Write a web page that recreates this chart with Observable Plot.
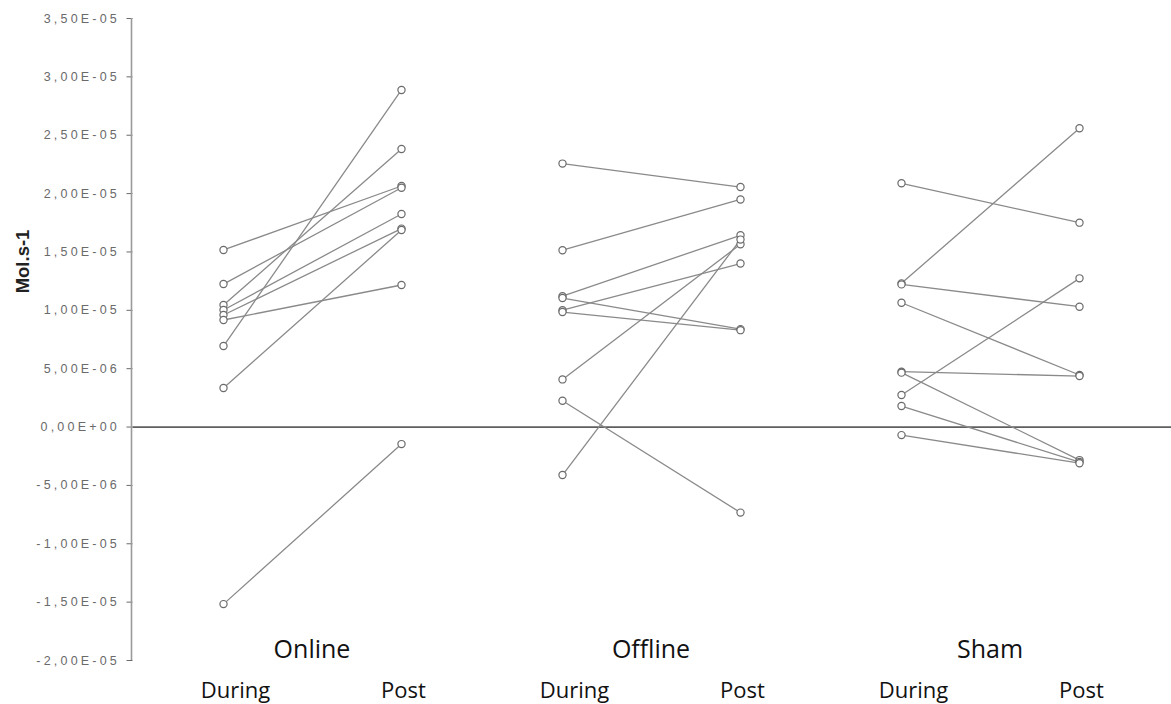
<!DOCTYPE html>
<html>
<head>
<meta charset="utf-8">
<script src="https://cdn.jsdelivr.net/npm/d3@7"></script>
<script src="https://cdn.jsdelivr.net/npm/@observablehq/plot@0.6"></script>
<style>
  html, body { margin: 0; padding: 0; background: #fff; }
  #chart svg [aria-label="y-axis tick label"] text { letter-spacing: 3.2px; }
</style>
</head>
<body>
<div id="chart"></div>
<script>
// ---- data ----
const groups = ["Online", "Offline", "Sham"];
const phases = ["During", "Post"];
const yLabel = "Mol.s-1";
const yTicks = [-2e-5, -1.5e-5, -1e-5, -5e-6, 0, 5e-6, 1e-5, 1.5e-5, 2e-5, 2.5e-5, 3e-5, 3.5e-5];

const onlineDuring  = [1.517e-5, 1.225e-5, 1.045e-5, 1.003e-5, 0.960e-5, 0.917e-5, 0.694e-5, 0.334e-5, -1.517e-5];
const onlinePost    = [2.065e-5, 2.050e-5, 2.382e-5, 1.825e-5, 1.700e-5, 1.217e-5, 2.888e-5, 1.688e-5, -0.146e-5];

const offlineDuring = [2.257e-5, 1.515e-5, 1.121e-5, 1.105e-5, 1.001e-5, 0.985e-5, 0.408e-5, 0.225e-5, -0.411e-5];
const offlinePost   = [2.056e-5, 1.950e-5, 1.643e-5, 0.839e-5, 1.401e-5, 0.830e-5, 1.566e-5, -0.733e-5, 1.606e-5];

const shamDuring    = [2.088e-5, 1.231e-5, 1.222e-5, 1.065e-5, 0.474e-5, 0.466e-5, 0.274e-5, 0.180e-5, -0.069e-5];
const shamPost      = [1.751e-5, 2.560e-5, 1.031e-5, 0.446e-5, 0.437e-5, -0.283e-5, 1.274e-5, -0.300e-5, -0.310e-5];

// ---- build long table ----
const series = {
  Online: [onlineDuring, onlinePost],
  Offline: [offlineDuring, offlinePost],
  Sham: [shamDuring, shamPost]
};
const rows = [];
for (const g of groups) {
  const [during, post] = series[g];
  during.forEach((v, i) => {
    rows.push({group: g, phase: phases[0], subject: g + i, value: v});
    rows.push({group: g, phase: phases[1], subject: g + i, value: post[i]});
  });
}

const fmt = d => {
  const [m, e] = d.toExponential(2).split("e");
  const n = +e;
  return m.replace(".", ",") + "E" + (n < 0 ? "-" : "+") + String(Math.abs(n)).padStart(2, "0");
};

const marginLeft = 141;
const marginRight = 12;
const axisShift = -9.5;
const zeroStyle = {stroke: "#5f5f5f", strokeWidth: 1.7};

const chart = Plot.plot({
  width: 1171,
  height: 704,
  marginLeft,
  marginRight,
  marginTop: 18,
  marginBottom: 44,
  style: {fontFamily: "'Open Sans', sans-serif", background: "white", overflow: "visible"},
  fx: {domain: groups, padding: 0, label: null},
  x: {domain: phases, padding: 0.4478, label: null},
  y: {domain: [-2e-5, 3.5e-5], label: null},
  marks: [
    Plot.ruleY([0], {...zeroStyle, fx: [groups[0]], insetLeft: axisShift}),
    Plot.ruleY([0], {...zeroStyle, fx: [groups[1]]}),
    Plot.ruleY([0], {...zeroStyle, fx: [groups[2]], insetRight: -marginRight}),
    Plot.line(rows, {fx: "group", x: "phase", y: "value", z: "subject", stroke: "#8a8a8a", strokeWidth: 1.3}),
    Plot.dot(rows, {fx: "group", x: "phase", y: "value", r: 3.6, stroke: "#6a6a6a", strokeWidth: 1.2, fill: "white"}),
    Plot.axisY({
      ticks: yTicks, tickFormat: fmt, tickSize: 6, tickPadding: 7, dx: axisShift,
      fontSize: 12.5, color: "#6a6a6a", fontFamily: "'Liberation Sans', Arial, sans-serif", label: null
    }),
    Plot.axisX({ticks: [phases[0]], tickSize: 0, tickPadding: 22, dx: 12, fontSize: 22, color: "#111", label: null}),
    Plot.axisX({ticks: [phases[1]], tickSize: 0, tickPadding: 22, dx: 2, fontSize: 22, color: "#111", label: null}),
    Plot.axisFx({anchor: "bottom", tickSize: 0, tickPadding: 0, dy: -20, fontSize: 25, color: "#111", label: null}),
    Plot.text([yLabel], {
      fx: [groups[0]], frameAnchor: "left", textAnchor: "middle", dx: -119, dy: -78, rotate: -90,
      fontSize: 18.5, fontWeight: "bold", fontFamily: "'Liberation Sans', Arial, sans-serif", fill: "#222"
    })
  ]
});

// y axis domain line, positioned from the y scale's range
const yr = chart.scale("y").range;
d3.select(chart).append("line")
  .attr("x1", marginLeft + axisShift).attr("x2", marginLeft + axisShift)
  .attr("y1", yr[0]).attr("y2", yr[1])
  .attr("stroke", "#9a9a9a").attr("stroke-width", 1.6);

document.getElementById("chart").appendChild(chart);
</script>
</body>
</html>
